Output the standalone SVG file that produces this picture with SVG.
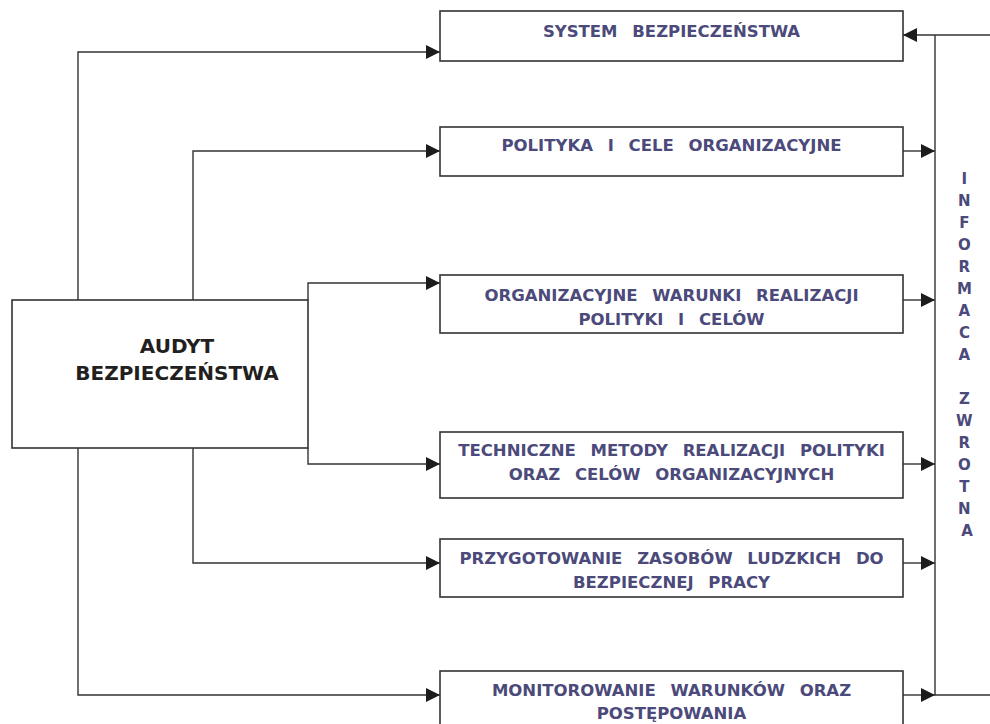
<svg xmlns="http://www.w3.org/2000/svg" width="990" height="724" viewBox="0 0 990 724">
<style>
.box{fill:#fff;stroke:#333;stroke-width:1.6}
.lbl{font-family:"DejaVu Sans","Verdana",sans-serif;font-weight:bold;font-size:16.5px;fill:#4b4a7a;text-anchor:middle;word-spacing:9px}
.main{font-family:"DejaVu Sans","Verdana",sans-serif;font-weight:bold;font-size:20px;fill:#231f20;text-anchor:middle}
.vert{font-family:"DejaVu Sans","Verdana",sans-serif;font-weight:bold;font-size:15px;fill:#4b4a7a;text-anchor:middle}
.ln{fill:none;stroke:#333;stroke-width:1.4}
</style>
<defs>
<marker id="ah" markerUnits="userSpaceOnUse" markerWidth="14" markerHeight="14" viewBox="0 0 14 14" refX="14" refY="7" orient="auto">
<path d="M0,0 L14,7 L0,14 Z" fill="#1e1b1c"/>
</marker>
</defs>
<g id="connectors">
<path class="ln" d="M78,300 V52 H440" marker-end="url(#ah)"/>
<path class="ln" d="M193,300 V151 H440" marker-end="url(#ah)"/>
<path class="ln" d="M308,300 V283 H440" marker-end="url(#ah)"/>
<path class="ln" d="M308,448 V464 H440" marker-end="url(#ah)"/>
<path class="ln" d="M193,448 V563 H440" marker-end="url(#ah)"/>
<path class="ln" d="M78,448 V695 H440" marker-end="url(#ah)"/>
<path class="ln" d="M903,151 H935" marker-end="url(#ah)"/>
<path class="ln" d="M903,300 H935" marker-end="url(#ah)"/>
<path class="ln" d="M903,464 H935" marker-end="url(#ah)"/>
<path class="ln" d="M903,563 H935" marker-end="url(#ah)"/>
<path class="ln" d="M903,695 H935" marker-end="url(#ah)"/>
<path class="ln" d="M990,35 H903" marker-end="url(#ah)"/>
<path class="ln" d="M935,35 V695 H990"/>
</g>
<g id="audyt">
<rect class="box" x="12" y="300" width="296" height="148"/>
<text class="main" x="177" y="353">AUDYT</text>
<text class="main" x="177" y="380">BEZPIECZEŃSTWA</text>
</g>
<g id="system">
<rect class="box" x="440" y="11" width="463" height="50"/>
<text class="lbl" x="671.5" y="37">SYSTEM BEZPIECZEŃSTWA</text>
</g>
<g id="polityka">
<rect class="box" x="440" y="127" width="463" height="49"/>
<text class="lbl" x="671.5" y="151">POLITYKA I CELE ORGANIZACYJNE</text>
</g>
<g id="organizacyjne">
<rect class="box" x="440" y="275" width="463" height="58"/>
<text class="lbl" x="671.5" y="301">ORGANIZACYJNE WARUNKI REALIZACJI</text>
<text class="lbl" x="671.5" y="325">POLITYKI I CELÓW</text>
</g>
<g id="techniczne">
<rect class="box" x="440" y="432" width="463" height="66"/>
<text class="lbl" x="671.5" y="456">TECHNICZNE METODY REALIZACJI POLITYKI</text>
<text class="lbl" x="671.5" y="480">ORAZ CELÓW ORGANIZACYJNYCH</text>
</g>
<g id="przygotowanie">
<rect class="box" x="440" y="539" width="463" height="58"/>
<text class="lbl" x="671.5" y="564">PRZYGOTOWANIE ZASOBÓW LUDZKICH DO</text>
<text class="lbl" x="671.5" y="588">BEZPIECZNEJ PRACY</text>
</g>
<g id="monitorowanie">
<rect class="box" x="440" y="671" width="463" height="70"/>
<text class="lbl" x="671.5" y="696">MONITOROWANIE WARUNKÓW ORAZ</text>
<text class="lbl" x="671.5" y="719">POSTĘPOWANIA</text>
</g>
<g id="informacja">
<text class="vert">
<tspan x="967" y="184">I</tspan>
<tspan x="967" y="206">N</tspan>
<tspan x="967" y="228">F</tspan>
<tspan x="967" y="250">O</tspan>
<tspan x="967" y="272">R</tspan>
<tspan x="967" y="294">M</tspan>
<tspan x="967" y="316">A</tspan>
<tspan x="967" y="338">C</tspan>
<tspan x="967" y="360">A</tspan>
<tspan x="967" y="404">Z</tspan>
<tspan x="967" y="426">W</tspan>
<tspan x="967" y="448">R</tspan>
<tspan x="967" y="470">O</tspan>
<tspan x="967" y="492">T</tspan>
<tspan x="967" y="514">N</tspan>
<tspan x="967" y="536">A</tspan>
</text>
</g>
</svg>
